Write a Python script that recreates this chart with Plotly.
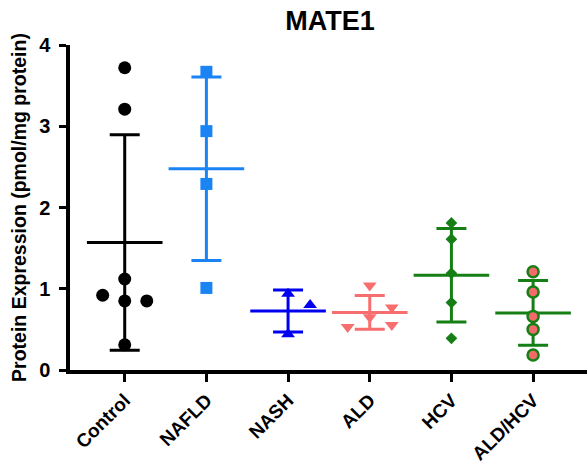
import numpy as np
import plotly.graph_objects as go

# Groups and per-sample MATE1 protein expression (pmol/mg protein)
groups = ["Control", "NAFLD", "NASH", "ALD", "HCV", "ALD/HCV"]
control = [3.72, 3.21, 1.12, 0.85, 0.85, 0.92, 0.31]
nafld = [3.67, 2.94, 2.29, 1.01]
nash = [0.94, 0.80, 0.44]
ald = [1.04, 0.65, 0.77, 0.555, 0.53]
hcv = [1.81, 1.61, 1.19, 0.83, 0.39]
ald_hcv = [1.21, 0.96, 0.66, 0.50, 0.185]
y_ticks = [0, 1, 2, 3, 4]

series = [control, nafld, nash, ald, hcv, ald_hcv]

# Marker styling per group
styles = [
    dict(color="#000000", symbol="circle", size=13, line=dict(width=0)),
    dict(color="#1a84f5", symbol="square", size=12, line=dict(width=0)),
    dict(color="#0000f0", symbol="triangle-up", size=12, line=dict(width=0)),
    dict(color="#f76e6e", symbol="triangle-down", size=12, line=dict(width=0)),
    dict(color="#157f15", symbol="diamond", size=9, line=dict(width=0)),
    dict(color="#f46a6a", symbol="circle", size=11, line=dict(width=2.5, color="#157f15")),
]
line_colors = ["#000000", "#1a84f5", "#0000f0", "#f76e6e", "#157f15", "#157f15"]

FONT = "Liberation Sans, Arial, Helvetica, sans-serif"


def swarm(values, step=0.27, gap=0.15):
    """Spread overlapping points sideways into lanes (0, +1, -1, +2, ...)."""
    placed, offsets = [], []
    for v in values:
        for lane in [0, 1, -1, 2, -2, 3, -3]:
            if all(abs(v - pv) >= gap for pv, pl in placed if pl == lane):
                break
        placed.append((v, lane))
        offsets.append(lane * step)
    return offsets


fig = go.Figure()

for i, (vals, st, lc) in enumerate(zip(series, styles, line_colors)):
    arr = np.array(vals)
    mean = arr.mean()
    sd = arr.std(ddof=1)
    # mean bar with +/- SD whiskers
    fig.add_trace(go.Scatter(
        x=[i], y=[mean], mode="markers",
        marker=dict(symbol="line-ew", size=54, line=dict(width=3, color=lc)),
        error_y=dict(type="data", array=[sd], visible=True,
                     color=lc, thickness=3, width=15),
        showlegend=False, hoverinfo="skip",
    ))
    offs = swarm(vals)
    fig.add_trace(go.Scatter(
        x=[i + o for o in offs], y=vals, mode="markers",
        marker=st, showlegend=False,
    ))

fig.update_layout(
    width=588, height=463,
    margin=dict(l=70, r=1, t=45, b=93),
    plot_bgcolor="white", paper_bgcolor="white",
    font=dict(family=FONT, color="black"),
    title=dict(text="MATE1", x=0.503, xref="paper", xanchor="center",
               y=0.975, yref="container", yanchor="top",
               font=dict(size=27, weight="bold", family=FONT)),
)

fig.update_xaxes(
    range=[-0.67, 5.66], automargin=False,
    tickvals=list(range(len(groups))), ticktext=groups,
    tickangle=-45,
    tickfont=dict(size=19, weight="bold", family=FONT),
    ticks="outside", ticklen=8, tickwidth=3, tickcolor="black",
    showline=True, linewidth=3.5, linecolor="black",
    showgrid=False, zeroline=False,
)

fig.update_yaxes(
    range=[0, 4], automargin=False,
    tickvals=y_ticks,
    tickfont=dict(size=20, weight="bold", family=FONT),
    ticks="outside", ticklen=7, tickwidth=3, tickcolor="black",
    ticklabelstandoff=5,
    showline=True, linewidth=3.5, linecolor="black",
    showgrid=False, zeroline=False,
    title=dict(text="Protein Expression (pmol/mg protein)",
               font=dict(size=19.5, weight="bold", family=FONT),
               standoff=8),
)

fig.write_html("out.html")
